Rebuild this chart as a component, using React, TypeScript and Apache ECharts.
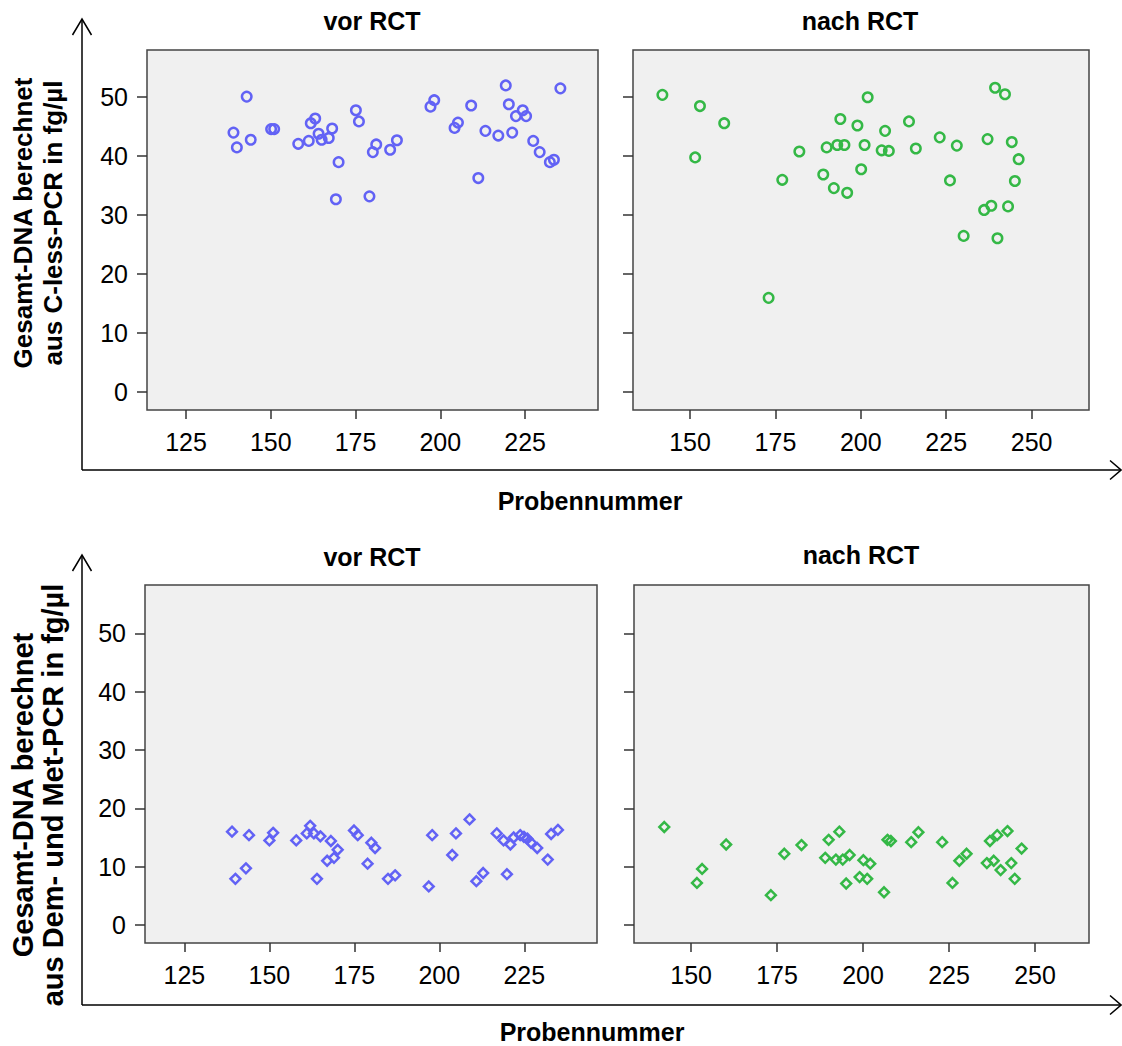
import React, { useEffect, useRef } from "react";
import * as echarts from "echarts";

// ---- Data ----
const xTicksVor = [125, 150, 175, 200, 225];
const xTicksNach = [150, 175, 200, 225, 250];
const yTicks = [0, 10, 20, 30, 40, 50];

// C-less-PCR, vor RCT
const cLessVorX = [142.9, 139.0, 140.0, 144.1, 150.1, 151.0, 158.1, 161.2, 161.8, 163.1, 164.1, 165.0, 167.1, 168.1, 170.0, 169.2, 175.1, 176.0, 179.1, 180.1, 181.1, 185.2, 187.2, 197.1, 198.2, 204.2, 205.2, 209.1, 211.2, 213.3, 217.1, 219.3, 220.2, 221.2, 222.3, 224.3, 225.3, 227.4, 229.3, 232.3, 233.5, 235.4];
const cLessVorY = [50.0, 43.9, 41.4, 42.7, 44.5, 44.5, 42.0, 42.5, 45.5, 46.3, 43.7, 42.7, 43.0, 44.6, 38.9, 32.6, 47.7, 45.8, 33.1, 40.6, 41.9, 41.0, 42.6, 48.3, 49.4, 44.7, 45.6, 48.5, 36.2, 44.2, 43.4, 51.9, 48.7, 43.9, 46.7, 47.7, 46.7, 42.5, 40.6, 38.9, 39.3, 51.4];

// C-less-PCR, nach RCT
const cLessNachX = [141.9, 151.5, 152.9, 160.0, 177.0, 182.0, 189.0, 190.0, 192.1, 193.1, 194.0, 195.2, 196.0, 199.0, 200.1, 201.1, 202.0, 206.1, 207.1, 208.2, 214.1, 216.1, 223.1, 226.1, 228.1, 230.1, 236.1, 237.1, 238.2, 239.3, 240.0, 242.2, 243.1, 244.2, 245.1, 246.2, 173.0];
const cLessNachY = [50.3, 39.7, 48.4, 45.5, 35.9, 40.7, 36.8, 41.4, 34.5, 41.8, 46.2, 41.8, 33.7, 45.1, 37.7, 41.8, 49.9, 40.9, 44.2, 40.8, 45.8, 41.2, 43.1, 35.8, 41.7, 26.4, 30.8, 42.8, 31.5, 51.5, 26.0, 50.4, 31.4, 42.3, 35.7, 39.4, 15.9];

// Dem- und Met-PCR, vor RCT
const demMetVorX = [139.0, 140.0, 143.1, 144.0, 150.0, 151.1, 157.9, 161.0, 162.0, 163.1, 164.0, 165.0, 167.0, 168.1, 169.0, 170.1, 174.9, 176.0, 178.9, 180.0, 181.1, 184.9, 187.0, 196.9, 197.9, 203.8, 204.9, 208.9, 210.9, 212.9, 216.9, 218.9, 219.9, 220.9, 221.9, 223.8, 224.9, 225.9, 227.0, 228.8, 231.9, 232.9, 234.9];
const demMetVorY = [16.0, 7.9, 9.7, 15.4, 14.5, 15.8, 14.5, 15.7, 17.0, 15.7, 7.9, 15.2, 11.0, 14.4, 11.5, 12.9, 16.2, 15.4, 10.5, 14.1, 13.2, 7.9, 8.5, 6.6, 15.4, 12.0, 15.7, 18.1, 7.5, 8.9, 15.7, 14.5, 8.7, 13.8, 15.0, 15.4, 15.1, 14.8, 14.1, 13.2, 11.2, 15.6, 16.3];

// Dem- und Met-PCR, nach RCT
const demMetNachX = [142.2, 151.7, 153.2, 160.2, 173.2, 177.1, 182.1, 189.0, 190.0, 192.1, 193.1, 194.1, 195.1, 196.1, 199.0, 200.1, 201.2, 202.1, 206.1, 207.1, 208.1, 214.0, 216.1, 223.0, 226.0, 228.0, 230.1, 236.0, 236.9, 238.0, 239.0, 240.0, 242.0, 243.1, 244.1, 246.1];
const demMetNachY = [16.8, 7.2, 9.6, 13.8, 5.1, 12.2, 13.7, 11.5, 14.6, 11.2, 16.0, 11.2, 7.1, 12.0, 8.2, 11.1, 7.9, 10.5, 5.6, 14.6, 14.4, 14.2, 15.9, 14.2, 7.2, 11.0, 12.2, 10.6, 14.4, 11.0, 15.4, 9.4, 16.1, 10.6, 7.9, 13.1];

const panelTitles = ["vor RCT", "nach RCT"];
const yTitleTop = "Gesamt-DNA berechnet\naus C-less-PCR in fg/µl";
const yTitleBottom = "Gesamt-DNA berechnet\naus Dem- und Met-PCR in fg/µl";
const xTitle = "Probennummer";

const BLUE = "#6262f5";
const GREEN = "#34b846";
const FONT = "Liberation Sans, Arial, sans-serif";

const zip = (xs: number[], ys: number[]) => xs.map((x, i) => [x, ys[i]]);

export default function App() {
  const ref = useRef<HTMLDivElement>(null);

  useEffect(() => {
    document.body.style.margin = "0";
    const chart = echarts.init(ref.current!, null, { renderer: "svg" });

    const grids = [
      { left: 147, top: 50, width: 451, height: 360 },
      { left: 633, top: 50, width: 456, height: 360 },
      { left: 145, top: 585, width: 452, height: 358 },
      { left: 634, top: 585, width: 455, height: 358 },
    ].map((g) => ({
      ...g,
      show: true,
      backgroundColor: "#f0f0f0",
      borderColor: "#444",
      borderWidth: 1.5,
    }));

    const xRanges = [
      [113.5, 246.5, xTicksVor],
      [133.3, 266.8, xTicksNach],
      [113.4, 246.4, xTicksVor],
      [133.4, 265.7, xTicksNach],
    ] as [number, number, number[]][];

    const xAxes = xRanges.map(([min, max, ticks], i) => ({
      type: "value",
      gridIndex: i,
      position: "bottom",
      min,
      max,
      axisLine: { show: false, onZero: false },
      splitLine: { show: false },
      axisTick: {
        show: true,
        customValues: ticks,
        length: 9,
        lineStyle: { color: "#333", width: 1.5 },
      },
      axisLabel: {
        customValues: ticks,
        fontSize: 25,
        fontFamily: FONT,
        color: "#000",
        margin: 19,
      },
    }));

    const yRanges = [
      [-3.1, 57.9],
      [-3.1, 57.9],
      [-3.1, 58.3],
      [-3.1, 58.3],
    ];
    const yAxes = yRanges.map(([min, max], i) => ({
      type: "value",
      gridIndex: i,
      position: "left",
      min,
      max,
      axisLine: { show: false, onZero: false },
      splitLine: { show: false },
      axisTick: {
        show: true,
        customValues: yTicks,
        length: 10,
        lineStyle: { color: "#333", width: 1.5 },
      },
      axisLabel: {
        show: i % 2 === 0,
        customValues: yTicks,
        fontSize: 25,
        fontFamily: FONT,
        color: "#000",
        margin: 19,
      },
    }));

    const mk = (data: number[][], i: number, color: string, symbol: string, size: number) => ({
      type: "scatter",
      xAxisIndex: i,
      yAxisIndex: i,
      data,
      symbol,
      symbolSize: size,
      itemStyle: { color: "rgba(0,0,0,0)", borderColor: color, borderWidth: 2.5, opacity: 1 },
      emphasis: { disabled: true },
    });

    const txt = (text: string, x: number, y: number, size: number, extra: any = {}) => ({
      type: "text",
      x,
      y,
      ...extra,
      style: {
        text,
        fontSize: size,
        fontWeight: "bold",
        fontFamily: FONT,
        fill: "#000",
        align: "center",
        verticalAlign: "middle",
        lineHeight: extra.lineHeight || size,
      },
    });

    const axisFrame = (top: number, bottom: number) => [
      { type: "line", shape: { x1: 82, y1: bottom, x2: 82, y2: top }, style: { stroke: "#000", lineWidth: 1.5 } },
      { type: "polyline", shape: { points: [[72.5, top + 16], [82, top], [91.5, top + 16]] }, style: { stroke: "#000", lineWidth: 1.5, fill: "none" } },
      { type: "line", shape: { x1: 82, y1: bottom, x2: 1121, y2: bottom }, style: { stroke: "#000", lineWidth: 1.5 } },
      { type: "polyline", shape: { points: [[1110, bottom - 9.5], [1121, bottom], [1110, bottom + 9.5]] }, style: { stroke: "#000", lineWidth: 1.5, fill: "none" } },
    ];

    chart.setOption({
      animation: false,
      grid: grids,
      xAxis: xAxes,
      yAxis: yAxes,
      series: [
        mk(zip(cLessVorX, cLessVorY), 0, BLUE, "circle", 9.5),
        mk(zip(cLessNachX, cLessNachY), 1, GREEN, "circle", 9.5),
        mk(zip(demMetVorX, demMetVorY), 2, BLUE, "diamond", 9.8),
        mk(zip(demMetNachX, demMetNachY), 3, GREEN, "diamond", 9.8),
      ],
      graphic: [
        ...axisFrame(19, 470),
        ...axisFrame(555, 1005),
        txt(panelTitles[0], 372, 21, 25),
        txt(panelTitles[1], 860, 21, 25),
        txt(panelTitles[0], 372, 557, 25),
        txt(panelTitles[1], 861, 555, 25),
        txt(xTitle, 590, 501, 25),
        txt(xTitle, 592, 1032, 25),
        txt(yTitleTop, 38, 223, 26, { rotation: Math.PI / 2, lineHeight: 30 }),
        txt(yTitleBottom, 38, 795, 29, { rotation: Math.PI / 2, lineHeight: 30 }),
      ],
    });

    return () => chart.dispose();
  }, []);

  return <div ref={ref} style={{ width: 1122, height: 1046 }} />;
}
